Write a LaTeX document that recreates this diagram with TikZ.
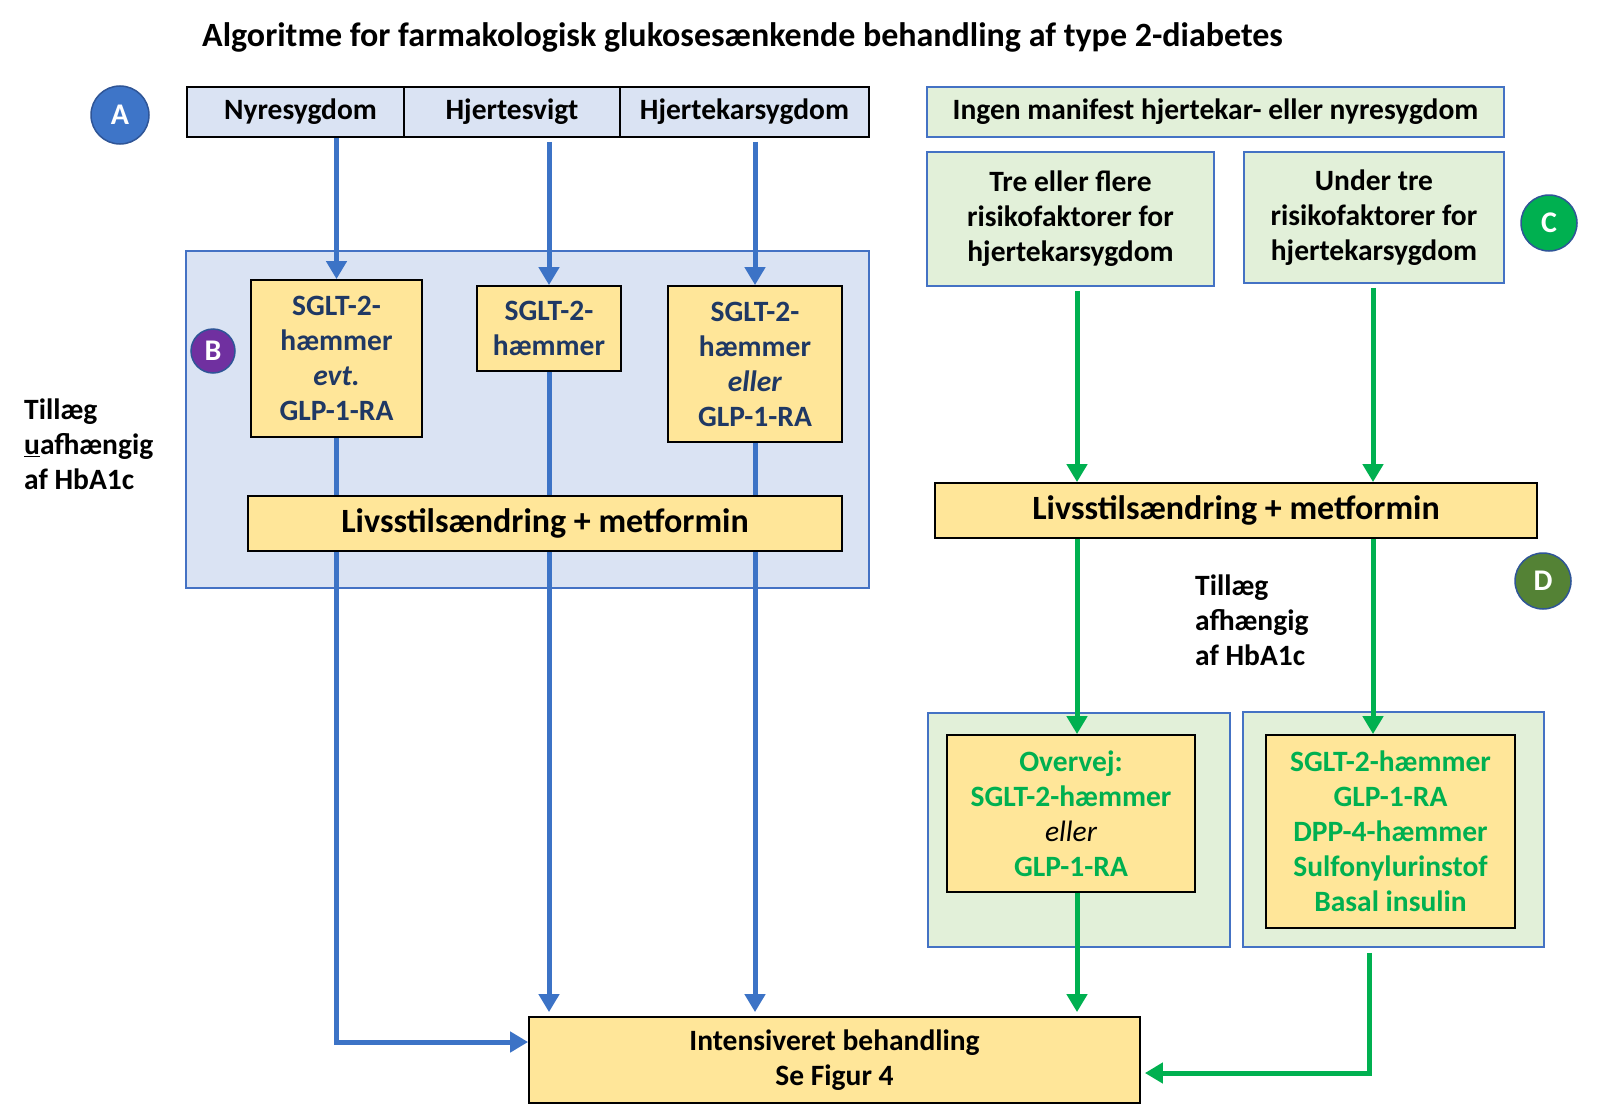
\documentclass[tikz,border=0pt]{standalone}
\usepackage{fontspec}
\setmainfont{Carlito}
\usetikzlibrary{arrows.meta}
\definecolor{hblue}{HTML}{DAE3F3}
\definecolor{yel}{HTML}{FFE699}
\definecolor{lgreen}{HTML}{E2F0D9}
\definecolor{bord}{HTML}{4472C4}
\definecolor{ablue}{HTML}{3C73C6}
\definecolor{agreen}{HTML}{00B050}
\definecolor{navy}{HTML}{1F3864}
\definecolor{cA}{HTML}{3E75C8}
\definecolor{cB}{HTML}{7030A0}
\definecolor{cC}{HTML}{00B050}
\definecolor{cD}{HTML}{548235}
\definecolor{cbord}{HTML}{2F5597}
\begin{document}
\begin{tikzpicture}[x=1pt,y=-1pt,
 txt/.style={font=\fontsize{29.5}{35}\selectfont\bfseries, align=center},
 bigtxt/.style={font=\fontsize{34}{40}\selectfont\bfseries, align=center},
 hdr/.style={txt, draw=black, line width=1.8pt, fill=hblue, inner sep=0pt, minimum height=50pt},
 ybox/.style={txt, draw=black, line width=1.8pt, fill=yel, inner sep=0pt},
 gbox/.style={draw=bord, line width=1.5pt, fill=lgreen, inner sep=0pt},
 bbox/.style={draw=bord, line width=1.5pt, fill=hblue, inner sep=0pt},
 badge/.style={circle, draw=cbord, line width=1.5pt, inner sep=0pt, text=white, font=\fontsize{30}{30}\selectfont\bfseries},
 barrow/.style={draw=ablue, line width=5pt, -{Triangle[length=18pt,width=20pt]}},
 bline/.style={draw=ablue, line width=5pt},
 garrow/.style={draw=agreen, line width=5pt, -{Triangle[length=18pt,width=20pt]}},
]
\useasboundingbox[fill=white] (0,0) rectangle (1600,1116);

% title
\node[font=\fontsize{34}{40}\selectfont\bfseries, anchor=west, inner sep=0pt] (title) at (202,37) {Algoritme for farmakologisk glukosesænkende behandling af type 2-diabetes};

% ---------- left part ----------
\node[badge, fill=cA, minimum size=58pt] (cirA) at (120,115) {A};
\node[hdr, minimum width=217pt] (hN) at (295.5,112) {\hspace*{10pt}Nyresygdom};
\node[hdr, minimum width=216pt] (hH) at (512,112) {Hjertesvigt};
\node[hdr, minimum width=249pt] (hK) at (744.5,112) {Hjertekarsygdom};

\node[bbox, minimum width=683pt, minimum height=337pt] (B) at (527.5,419.5) {};
\node[badge, fill=cB, draw=cbord, minimum size=44pt] (cirB) at (213,351) {B};

\node[ybox, text=navy, minimum width=171pt, minimum height=157pt] (s1) at (336.5,358.5) {SGLT-2-\\hæmmer\\\textit{evt.}\\GLP-1-RA};
\node[ybox, text=navy, minimum width=144pt, minimum height=85pt] (s2) at (549,328.5) {SGLT-2-\\hæmmer};
\node[ybox, text=navy, minimum width=174pt, minimum height=156pt] (s3) at (755,364) {SGLT-2-\\hæmmer\\\textit{eller}\\GLP-1-RA};
\node[ybox, bigtxt, minimum width=594pt, minimum height=55pt] (livL) at (545,523.5) {Livsstilsændring + metformin};

\node[txt, align=left, anchor=west, inner sep=0pt] (tilL) at (24,444) {Tillæg\\\underline{u}afhængig\\af HbA1c};

\node[ybox, minimum width=611pt, minimum height=86pt] (Int) at (834.5,1060) {Intensiveret behandling\\Se Figur 4};

% blue connectors
\draw[barrow] (hN.south -| s1.north) -- (s1.north);
\draw[barrow] ([yshift=-4pt]hH.south -| s2.north) -- (s2.north);
\draw[barrow] ([yshift=-4pt]hK.south -| s3.north) -- (s3.north);
\draw[bline] (s1.south) -- (s1.south |- livL.north);
\draw[bline] (s2.south) -- (s2.south |- livL.north);
\draw[bline] (s3.south) -- (s3.south |- livL.north);
\draw[barrow] (livL.south -| s1.south) |- ([yshift=18pt]Int.west);
\draw[barrow] (livL.south -| s2.south) -- ([yshift=4pt]Int.north -| s2.south);
\draw[barrow] (livL.south -| s3.south) -- ([yshift=4pt]Int.north -| s3.south);

% ---------- right part ----------
\node[gbox, txt, minimum width=577pt, minimum height=50pt] (ing) at (1215.5,112) {Ingen manifest hjertekar- eller nyresygdom};
\node[gbox, txt, minimum width=287pt, minimum height=134pt] (tre) at (1070.5,219) {Tre eller flere\\risikofaktorer for\\hjertekarsygdom};
\node[gbox, txt, minimum width=260pt, minimum height=131pt] (und) at (1374,217.5) {Under tre\\risikofaktorer for\\hjertekarsygdom};
\node[badge, fill=cC, minimum size=56pt] (cirC) at (1549,223) {C};

\node[ybox, bigtxt, minimum width=602pt, minimum height=55pt] (livR) at (1236,510.5) {Livsstilsændring + metformin};
\node[badge, fill=cD, minimum size=56pt] (cirD) at (1543,581) {D};
\node[txt, align=left, anchor=west, inner sep=0pt] (tilR) at (1195,620) {Tillæg\\afhængig\\af HbA1c};

\node[gbox, minimum width=302pt, minimum height=234pt] (oL) at (1079,830) {};
\node[ybox, text=agreen, minimum width=248pt, minimum height=157pt] (iL) at (1071,813.5) {Overvej:\\SGLT-2-hæmmer\\\textcolor{black}{\mdseries\itshape eller}\\GLP-1-RA};
\node[gbox, minimum width=301pt, minimum height=235pt] (oR) at (1393.5,829.5) {};
\node[ybox, text=agreen, minimum width=249pt, minimum height=193pt] (iR) at (1390.5,831.5) {SGLT-2-hæmmer\\GLP-1-RA\\DPP-4-hæmmer\\Sulfonylurinstof\\Basal insulin};

% green connectors
\coordinate (gL) at (1077,0);
\coordinate (gR) at (1373,0);
\coordinate (gR2) at (1369,0);
\draw[garrow] ([yshift=-4pt]gL |- tre.south) -- (gL |- livR.north);
\draw[garrow] ([yshift=-4pt]gR |- und.south) -- (gR |- livR.north);
\draw[garrow] (gL |- livR.south) -- (gL |- iL.north);
\draw[garrow] (gR |- livR.south) -- (gR |- iR.north);
\draw[garrow] (gL |- iL.south) -- ([yshift=4pt]gL |- Int.north);
\draw[garrow] ([yshift=-5pt]gR2 |- oR.south) |- ([xshift=4pt,yshift=-13pt]Int.east);
\end{tikzpicture}
\end{document}
